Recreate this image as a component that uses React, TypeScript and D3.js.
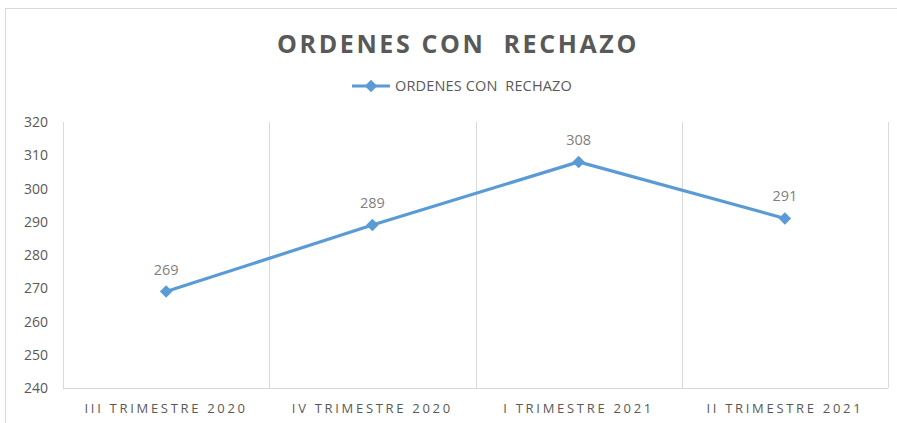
import React, { useEffect, useRef } from "react";
import * as d3 from "d3";

const categories = ["III TRIMESTRE 2020", "IV TRIMESTRE 2020", "I TRIMESTRE 2021", "II TRIMESTRE 2021"];
const values = [269, 289, 308, 291];
const yTicks = [240, 250, 260, 270, 280, 290, 300, 310, 320];
const seriesName = "ORDENES CON  RECHAZO";
const title = "ORDENES CON  RECHAZO";

const W = 897, H = 423;
const FONT = "'Open Sans', 'Liberation Sans', sans-serif";
const BLUE = "#5b9bd5";
const TEXT = "#595959";

export default function App() {
  const ref = useRef<SVGSVGElement>(null);

  useEffect(() => {
    const svg = d3.select(ref.current);
    svg.selectAll("*").remove();

    const margin = { top: 122, right: 9, bottom: 35, left: 63 };

    // outer chart frame
    svg.append("rect")
      .attr("x", 5.5).attr("y", 8.5)
      .attr("width", W + 10).attr("height", H + 10)
      .attr("fill", "#fff").attr("stroke", "#d9d9d9");

    const x = d3.scaleBand().domain(categories).range([margin.left, W - margin.right]);
    const y = d3.scaleLinear().domain([240, 320]).range([H - margin.bottom, margin.top]);

    const g = svg.append("g");

    // vertical gridlines at category edges
    const edges = categories.map(c => x(c) as number).concat([W - margin.right]);
    g.selectAll(".vg").data(edges).enter().append("line")
      .attr("x1", d => Math.round(d) + 0.5).attr("x2", d => Math.round(d) + 0.5)
      .attr("y1", y(320)).attr("y2", y(240))
      .attr("stroke", "#d9d9d9").attr("stroke-width", 1);

    // bottom axis line
    g.append("line")
      .attr("x1", margin.left).attr("x2", W - margin.right)
      .attr("y1", Math.round(y(240)) + 0.5).attr("y2", Math.round(y(240)) + 0.5)
      .attr("stroke", "#d9d9d9");

    // y tick labels
    g.selectAll(".yt").data(yTicks).enter().append("text")
      .attr("x", 48).attr("y", d => y(d) + 5)
      .attr("text-anchor", "end")
      .attr("font-family", FONT).attr("font-size", 14).attr("fill", TEXT)
      .text(d => d);

    // x tick labels
    g.selectAll(".xt").data(categories).enter().append("text")
      .attr("x", d => (x(d) as number) + x.bandwidth() / 2)
      .attr("y", 413)
      .attr("text-anchor", "middle")
      .attr("font-family", FONT).attr("font-size", 13).attr("letter-spacing", 2.7)
      .attr("fill", TEXT)
      .text(d => d);

    const cx = (i: number) => (x(categories[i]) as number) + x.bandwidth() / 2;

    const line = d3.line<number>()
      .x((d, i) => cx(i))
      .y(d => y(d));

    g.append("path")
      .datum(values)
      .attr("fill", "none")
      .attr("stroke", BLUE)
      .attr("stroke-width", 3.2)
      .attr("stroke-linejoin", "round")
      .attr("stroke-linecap", "round")
      .attr("d", line);

    const diamond = d3.symbol().type(d3.symbolDiamond2).size(100);
    g.selectAll(".pt").data(values).enter().append("path")
      .attr("d", diamond)
      .attr("transform", (d, i) => `translate(${cx(i)},${y(d)})`)
      .attr("fill", BLUE);

    g.selectAll(".lbl").data(values).enter().append("text")
      .attr("x", (d, i) => cx(i))
      .attr("y", d => y(d) - 17)
      .attr("text-anchor", "middle")
      .attr("font-family", FONT).attr("font-size", 14.5).attr("fill", "#7f7f7f")
      .text(d => d);

    // title
    svg.append("text")
      .attr("x", 458).attr("y", 53)
      .attr("text-anchor", "middle")
      .attr("font-family", FONT).attr("font-weight", "bold")
      .attr("font-size", 25).attr("letter-spacing", 2.6)
      .attr("fill", TEXT)
      .style("white-space", "pre")
      .text(title);

    // legend
    const lg = svg.append("g");
    lg.append("line")
      .attr("x1", 352).attr("x2", 390).attr("y1", 86).attr("y2", 86)
      .attr("stroke", BLUE).attr("stroke-width", 3);
    lg.append("path").attr("d", diamond).attr("transform", "translate(371,86)").attr("fill", BLUE);
    lg.append("text")
      .attr("x", 395).attr("y", 91)
      .attr("font-family", FONT).attr("font-size", 14.5).attr("letter-spacing", 0.15)
      .attr("fill", TEXT)
      .style("white-space", "pre")
      .text(seriesName);
  }, []);

  return (
    <div style={{ position: "absolute", left: 0, top: 0 }}>
      <svg ref={ref} width={W} height={H} style={{ display: "block" }} />
    </div>
  );
}
